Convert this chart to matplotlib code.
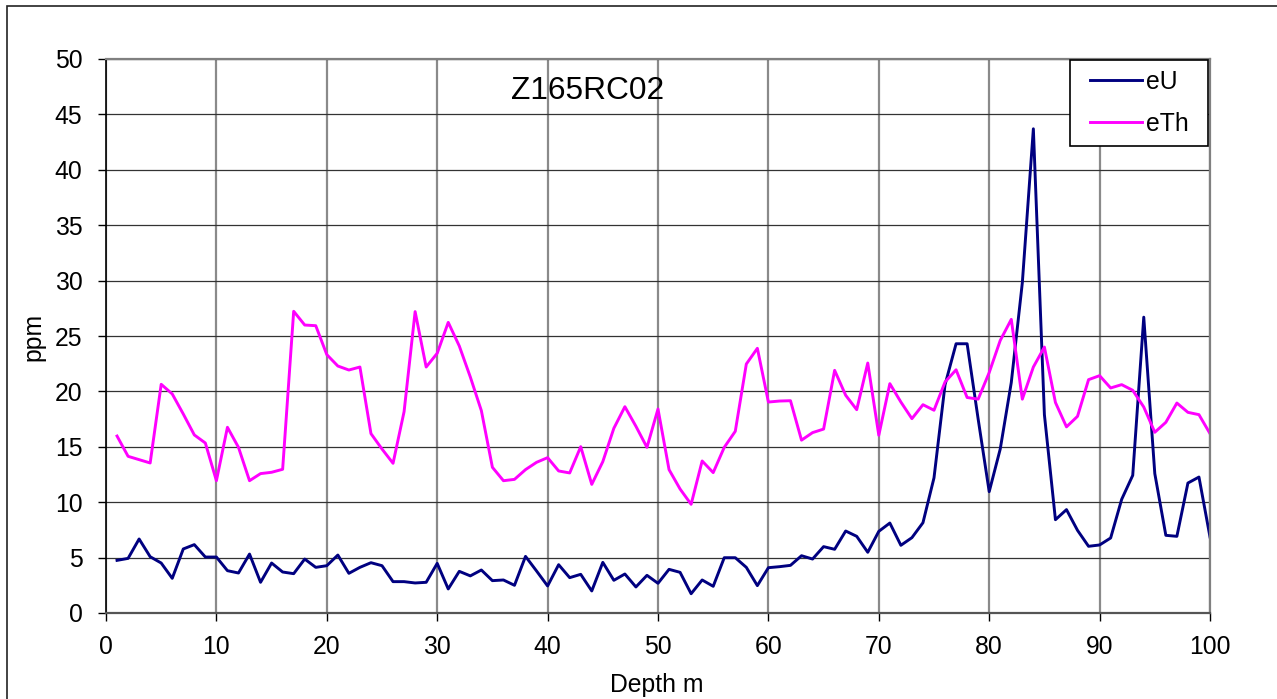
import matplotlib.pyplot as plt
from matplotlib.patches import Rectangle
from matplotlib.lines import Line2D
from matplotlib.legend_handler import HandlerLine2D
import numpy as np

plt.rcParams['font.family'] = ['Liberation Sans', 'DejaVu Sans']

# profundidad (m) de cada muestra
depth = np.arange(1, 101)

eU = [4.75, 4.93, 6.68, 5.08, 4.51, 3.13, 5.78, 6.17, 5.05, 5.05,
      3.82, 3.61, 5.32, 2.77, 4.51, 3.70, 3.55, 4.87, 4.12, 4.27,
      5.23, 3.58, 4.12, 4.54, 4.27, 2.83, 2.83, 2.71, 2.77, 4.48,
      2.17, 3.76, 3.35, 3.88, 2.92, 2.98, 2.50, 5.11, 3.79, 2.44,
      4.36, 3.19, 3.49, 1.99, 4.57, 2.95, 3.52, 2.35, 3.40, 2.68,
      3.94, 3.67, 1.74, 2.98, 2.41, 4.99, 4.99, 4.12, 2.47, 4.09,
      4.18, 4.30, 5.17, 4.87, 5.99, 5.75, 7.40, 6.92, 5.48, 7.37,
      8.12, 6.11, 6.80, 8.15, 12.2, 20.6, 24.3, 24.3, 17.5, 10.95,
      14.8, 20.8, 29.8, 43.7, 17.9, 8.42, 9.33, 7.46, 6.02, 6.14,
      6.77, 10.26, 12.42, 26.7, 12.58, 7.01, 6.92, 11.73, 12.27, 6.86]

eTh = [15.97, 14.14, 13.84, 13.54, 20.64, 19.77, 17.96, 16.07, 15.34, 11.94,
       16.76, 14.95, 11.94, 12.58, 12.70, 12.97, 27.23, 25.99, 25.93, 23.32,
       22.29, 21.93, 22.20, 16.19, 14.80, 13.51, 18.17, 27.20, 22.20, 23.44,
       26.23, 24.10, 21.3, 18.26, 13.15, 11.94, 12.06, 12.94, 13.60, 14.02,
       12.82, 12.64, 15.01, 11.61, 13.66, 16.67, 18.62, 16.85, 14.95, 18.41,
       12.94, 11.19, 9.81, 13.72, 12.67, 14.95, 16.40, 22.47, 23.89, 19.04,
       19.13, 19.16, 15.6, 16.28, 16.6, 21.90, 19.65, 18.35, 22.56, 16.04,
       20.70, 19.04, 17.54, 18.8, 18.3, 20.85, 21.95, 19.45, 19.3, 21.7,
       24.6, 26.5, 19.3, 22.2, 24.0, 19.0, 16.8, 17.75, 21.06, 21.42,
       20.31, 20.61, 20.10, 18.59, 16.31, 17.21, 18.95, 18.11, 17.90, 16.19]

fs = 17.8

fig = plt.figure(figsize=(12.77, 6.99), dpi=100)
ax = fig.add_axes([106/1277, 1 - 613/699, 1104/1277, 554/699])

# marco exterior del grafico
fig.patches.append(Rectangle((7/1277, -0.5), 2, 0.5 + 1 - 6/699,
                             transform=fig.transFigure, fill=False,
                             edgecolor='#222222', linewidth=1.2))

ax.plot(depth, eU, color='#000080', linewidth=2.1, label='eU')
ax.plot(depth, eTh, color='#ff00ff', linewidth=2.1, label='eTh')

ax.set_xlim(0, 100)
ax.set_ylim(0, 50)
ax.set_xticks(np.arange(0, 101, 10))
ax.set_yticks(np.arange(0, 51, 5))
ax.tick_params(axis='both', direction='out', length=6, width=1, color='black',
               labelsize=fs)
ax.tick_params(axis='x', pad=10)
ax.tick_params(axis='y', pad=11)

ax.grid(axis='y', color='#333333', linewidth=0.9)
ax.grid(axis='x', color='#8a8a8a', linewidth=1.6)
ax.set_axisbelow(True)

for s in ['top', 'right']:
    ax.spines[s].set_color('#808080')
    ax.spines[s].set_linewidth(1.6)
ax.spines['left'].set_color('black')
ax.spines['left'].set_linewidth(1.2)
ax.spines['bottom'].set_color('#555555')
ax.spines['bottom'].set_linewidth(1.6)

ax.text(0.4366, 0.942, 'Z165RC02', transform=ax.transAxes,
        ha='center', va='center', fontsize=22.8)

ax.set_xlabel('Depth m', fontsize=fs, va='center')
ax.xaxis.set_label_coords(0.499, -0.130)
ax.set_ylabel('ppm', fontsize=fs, va='center')
ax.yaxis.set_label_coords(-0.066, 0.498)

# leyenda tipo excel, caja fija arriba a la derecha
leg = ax.legend(loc='upper left', bbox_to_anchor=(0.8732, 0.843, 0.125, 0.1552),
                mode='expand', fontsize=fs, frameon=True, fancybox=False,
                shadow=False, borderaxespad=0, handlelength=2.53,
                handletextpad=0.15, labelspacing=0.74, borderpad=0.39,
                handler_map={Line2D: HandlerLine2D(xpad=0.43)})
leg.get_frame().set_edgecolor('black')
leg.get_frame().set_linewidth(1.2)
leg.get_frame().set_alpha(1)

plt.savefig('out.png', dpi=100)
